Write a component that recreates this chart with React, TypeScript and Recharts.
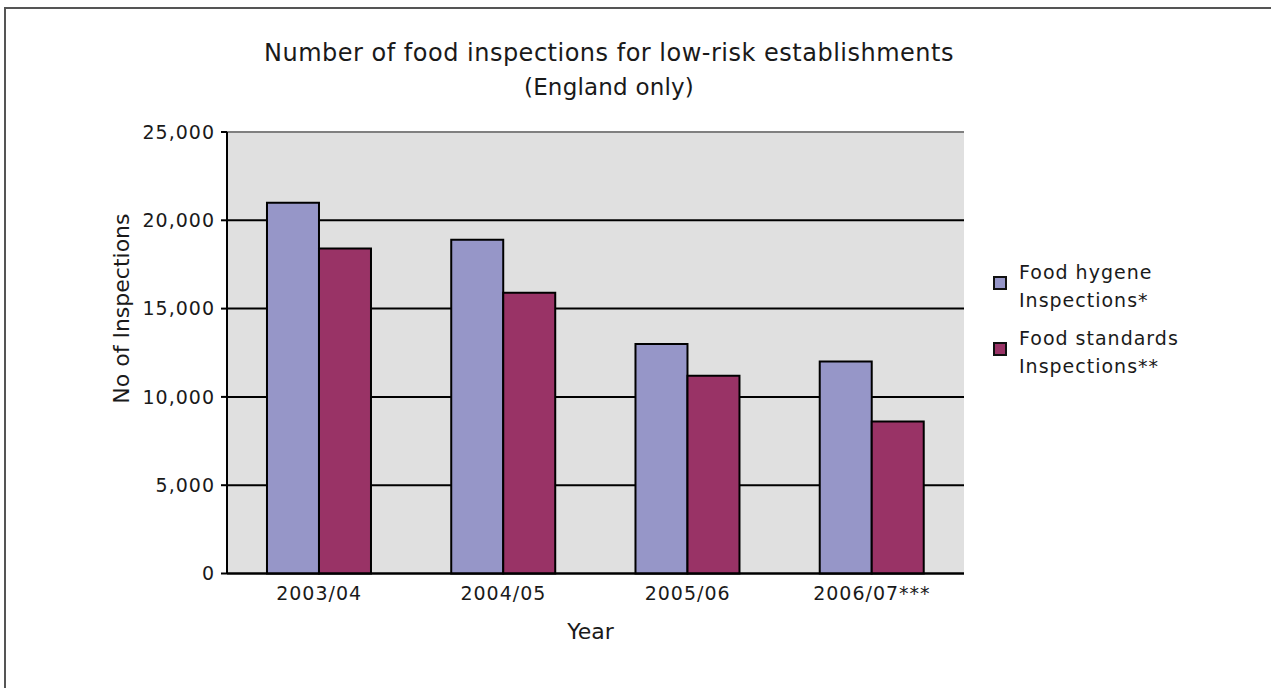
import {
  Bar,
  BarChart,
  CartesianGrid,
  Legend,
  ReferenceLine,
  XAxis,
  YAxis,
} from "recharts"


const years = ["2003/04", "2004/05", "2005/06", "2006/07***"]
const hygiene = [21000, 18900, 13000, 12000]
const standards = [18400, 15900, 11200, 8600]
const seriesNames = ["Food hygene Inspections*", "Food standards Inspections**"]
const seriesColors = ["#9696c8", "#993366"]
const yTicks = [0, 5000, 10000, 15000, 20000, 25000]
const edgeTicks = [0, 1, 2, 3, 4]

const rows = years.map((year, i) => ({ year, hygiene: hygiene[i], standards: standards[i] }))

const font = "'DejaVu Sans', sans-serif"
const ink = "#1a1a1a"
const tickStyle = { fill: ink, fontSize: 19, fontFamily: font, letterSpacing: 1 }


function LegendBox() {
  return (
    <div style={{ fontFamily: font, fontSize: 19, letterSpacing: 1, color: ink, lineHeight: "28px" }}>
      {seriesNames.map((name, i) => (
        <div key={name} style={{ display: "flex", alignItems: "flex-start", marginBottom: 10 }}>
          <span
            style={{
              width: 10,
              height: 10,
              marginTop: 18,
              marginRight: 12,
              background: seriesColors[i],
              border: "2px solid #111",
              flexShrink: 0,
            }}
          />
          <span style={{ width: 180 }}>{name}</span>
        </div>
      ))}
    </div>
  )
}


function YLabel({ viewBox }: any) {
  const x = viewBox.x + 5
  const y = viewBox.y + viewBox.height * 0.4
  return (
    <text x={x} y={y} transform={`rotate(-90, ${x}, ${y})`} textAnchor="middle" dominantBaseline="central"
      fill={ink} fontSize={22} fontFamily={font}>
      No of Inspections
    </text>
  )
}


function XLabel({ viewBox }: any) {
  return (
    <text x={viewBox.x + viewBox.width / 2 - 5} y={viewBox.y + 58} textAnchor="middle" dominantBaseline="central"
      fill={ink} fontSize={22} fontFamily={font}>
      Year
    </text>
  )
}


export default function App() {
  return (
    <div style={{ position: "fixed", left: 0, top: 0, width: 1271, height: 688, overflow: "hidden", background: "#fff" }}>
      <div style={{ position: "absolute", left: 4, top: 7, width: 1400, height: 800, borderTop: "2px solid #555", borderLeft: "2px solid #555" }} />
      <div style={{ position: "absolute", left: 209, width: 800, top: 39, textAlign: "center", fontFamily: font, color: ink }}>
        <div style={{ fontSize: 24, lineHeight: "28px", letterSpacing: 0.5 }}>Number of food inspections for low-risk establishments</div>
        <div style={{ fontSize: 23, lineHeight: "40px", letterSpacing: 0.2 }}>(England only)</div>
      </div>
      <BarChart
        width={1271}
        height={688}
        data={rows}
        margin={{ top: 132, right: 307, bottom: 44.5, left: 117 }}
        barCategoryGap="21.7%"
        barGap={0}
        style={{ position: "absolute", left: 0, top: 0 }}
      >
        <CartesianGrid yAxisId="left" vertical={false} stroke="#000" strokeWidth={2} fill="#e0e0e0" fillOpacity={1} />
        <XAxis
          dataKey="year"
          height={70}
          axisLine={{ stroke: "#000", strokeWidth: 2 }}
          tickLine={false}
          tickSize={6}
          tickMargin={7}
          tick={tickStyle}
          interval={0}
          label={<XLabel />}
        />
        <XAxis
          xAxisId="edge"
          type="number"
          domain={[0, 4]}
          ticks={edgeTicks}
          allowDataOverflow
          height={0}
          axisLine={false}
          tickLine={{ stroke: "#000", strokeWidth: 2 }}
          tickSize={6}
          tick={() => <g />}
        />
        <YAxis
          yAxisId="left"
          width={110}
          domain={[0, 25000]}
          ticks={yTicks}
          axisLine={{ stroke: "#000", strokeWidth: 2 }}
          tickLine={{ stroke: "#000", strokeWidth: 2 }}
          tickSize={6}
          tickMargin={6}
          tick={tickStyle}
          tickFormatter={(v) => Number(v).toLocaleString("en-US")}
          label={<YLabel />}
        />
        <YAxis
          yAxisId="right"
          orientation="right"
          width={0}
          domain={[0, 25000]}
          tick={false}
          tickLine={false}
          axisLine={{ stroke: "#808080", strokeWidth: 2 }}
        />
        <ReferenceLine yAxisId="left" y={25000} stroke="#808080" strokeWidth={2} />
        <Legend
          layout="vertical"
          align="center"
          verticalAlign="middle"
          content={<LegendBox />}
          wrapperStyle={{ left: 993, top: 258, width: 260 }}
        />
        <Bar yAxisId="left" dataKey="hygiene" name={seriesNames[0]} fill={seriesColors[0]} stroke="#000" strokeWidth={2} isAnimationActive={false} />
        <Bar yAxisId="left" dataKey="standards" name={seriesNames[1]} fill={seriesColors[1]} stroke="#000" strokeWidth={2} isAnimationActive={false} />
      </BarChart>
    </div>
  )
}
